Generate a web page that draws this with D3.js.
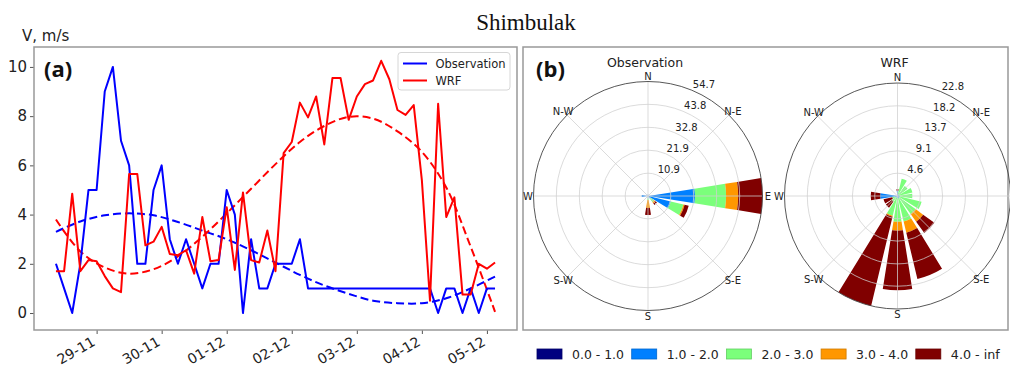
<!DOCTYPE html>
<html>
<head>
<meta charset="utf-8">
<script src="https://cdn.jsdelivr.net/npm/d3@7"></script>
<style>
  body { margin: 0; background: #fff; }
  svg { display: block; font-family: "DejaVu Sans", sans-serif; }
</style>
</head>
<body>
<svg id="chart" width="1010" height="365"></svg>
<script>
// ---------- wind speed time series (3-hourly, from 28-11 09:00) ----------
const startTime = new Date(2019, 10, 28, 9);
const stepHours = 3;
const observed = [2, 1, 0, 2, 5, 5, 9, 10, 7, 6, 2, 2, 5, 6, 3, 2, 3, 2, 1, 2,
  2, 5, 4, 0, 3, 1, 1, 2, 2, 2, 3, 1, 1, 1, 1, 1, 1, 1, 1, 1,
  1, 1, 1, 1, 1, 1, 1, 0, 1, 1, 0, 1, 0, 1, 1];
const wrf = [1.7, 1.7, 4.85, 1.7, 2.15, 2.1, 1.5, 1.0, 0.85, 5.65, 5.65, 2.75, 2.9, 3.5, 2.4, 2.35, 2.55, 1.6, 3.9, 2.1,
  2.15, 4.3, 1.75, 4.9, 2.15, 2.05, 3.35, 1.7, 6.5, 6.95, 8.55, 7.95, 8.8, 6.85, 9.55, 9.55, 7.85, 8.8, 9.3, 9.45,
  10.25, 9.5, 8.25, 8.05, 8.45, 5.4, 0.5, 8.5, 3.9, 4.7, 0.75, 0.75, 2.0, 1.8, 2.05];
// smooth trend curves, read every third step
const trendIndex = [0, 3, 6, 9, 12, 15, 18, 21, 24, 27, 30, 33, 36, 39, 42, 45, 48, 51, 54];
const observedTrend = [3.3, 3.72, 3.97, 4.05, 3.97, 3.7, 3.35, 3.0, 2.55, 2.05, 1.55, 1.12, 0.78, 0.5, 0.4, 0.4, 0.6, 1.0, 1.48];
const wrfTrend = [3.8, 2.5, 1.85, 1.6, 1.78, 2.3, 3.1, 4.05, 5.05, 6.05, 6.95, 7.6, 7.97, 7.9, 7.38, 6.55, 5.1, 2.7, 0.05];
const dayTicks = ["2019-11-29", "2019-11-30", "2019-12-01", "2019-12-02", "2019-12-03", "2019-12-04", "2019-12-05"];
const speedTicks = [0, 2, 4, 6, 8, 10];

// ---------- wind roses: frequency (%) per sector and speed class ----------
const sectors = ["N", "NNE", "NE", "ENE", "E", "ESE", "SE", "SSE", "S", "SSW", "SW", "WSW", "W", "WNW", "NW", "NNW"];
const speedClasses = ["0.0 - 1.0", "1.0 - 2.0", "2.0 - 3.0", "3.0 - 4.0", "4.0 - inf"];
const classColors = ["#000080", "#0080ff", "#7bff7b", "#ff9700", "#800000"];

const obs_0_1   = [0.3, 0, 0, 0, 0.3, 0.2, 0, 0, 0, 0, 0, 0, 0.3, 0, 0, 0];
const obs_1_2   = [0.5, 0, 0, 0, 22.2, 11.0, 1.5, 0, 1.0, 0, 0, 0, 2.7, 0.8, 0, 0];
const obs_2_3   = [0, 0, 0, 0, 14.8, 6.2, 2.0, 0, 0.9, 0, 0, 0, 0, 0, 0, 0];
const obs_3_4   = [0, 0, 0, 0, 5.8, 0.6, 0.8, 0, 3.8, 0, 0, 0, 0, 0, 0, 0];
const obs_4_inf = [0, 0, 0, 0, 11.6, 2.0, 1.0, 0, 3.4, 0, 0, 0, 0, 0, 0, 0];
const obsRadii  = [10.9, 21.9, 32.8, 43.8, 54.7];

const wrf_0_1   = [0, 0, 0, 0, 0, 0, 0, 0, 0, 0, 0, 0, 0, 0, 0, 0];
const wrf_1_2   = [1.0, 0.4, 0.3, 0.3, 0.3, 0.5, 0.4, 0.5, 0.4, 0.3, 0.4, 0.5, 3.5, 0, 0, 0];
const wrf_2_3   = [0, 3.2, 2.2, 2.8, 2.7, 4.5, 4.1, 4.8, 4.8, 3.8, 1.0, 0.6, 0, 0, 0, 0];
const wrf_3_4   = [0, 0, 0, 0, 0, 0, 1.9, 2.3, 1.8, 0.2, 0, 0, 0, 0, 0, 0];
const wrf_4_inf = [0.4, 0, 0, 0, 0, 0, 2.8, 9.6, 12.0, 18.5, 1.5, 1.8, 1.9, 0, 0, 0];
const wrfRadii  = [4.6, 9.1, 13.7, 18.2, 22.8];

const compassLabels = ["N", "N-E", "E", "S-E", "S", "S-W", "W", "N-W"];

// ---------------------------------------------------------------------------
const svg = d3.select("#chart");
const textColor = "#222";

// title
svg.append("text").attr("x", 526).attr("y", 30).attr("text-anchor", "middle")
  .style("font-family", "'Liberation Serif', serif").style("font-size", "23px")
  .attr("fill", "#111").text("Shimbulak");

// ---------------- panel (a): time series ----------------
const timeAt = i => new Date(startTime.getTime() + i * stepHours * 3600e3);
const pad = 8.1 * 3600e3;
const plot = { left: 34, right: 517, top: 47, bottom: 330 };

const x = d3.scaleTime()
  .domain([new Date(startTime.getTime() - pad), new Date(timeAt(observed.length - 1).getTime() + pad)])
  .range([plot.left, plot.right]);
const y = d3.scaleLinear().domain([-0.69, 10.81]).range([plot.bottom, plot.top]);

const gA = svg.append("g");

// y axis
const yAxis = gA.append("g").attr("transform", `translate(${plot.left},0)`)
  .call(d3.axisLeft(y).tickValues(speedTicks).tickSize(4).tickPadding(3).tickFormat(d3.format("d")));
yAxis.select(".domain").remove();
yAxis.selectAll("line").attr("stroke", "#555");
yAxis.selectAll("text").attr("fill", textColor).style("font-size", "15px")
  .style("font-family", "'DejaVu Sans', sans-serif");

// x axis
const dayDates = dayTicks.map(s => d3.timeParse("%Y-%m-%d")(s));
const xAxis = gA.append("g").attr("transform", `translate(0,${plot.bottom})`)
  .call(d3.axisBottom(x).tickValues(dayDates).tickSize(4).tickFormat(d3.timeFormat("%d-%m")));
xAxis.select(".domain").remove();
xAxis.selectAll("line").attr("stroke", "#555");
xAxis.selectAll("text")
  .attr("fill", textColor).style("font-size", "14px").style("font-family", "'DejaVu Sans', sans-serif")
  .attr("text-anchor", "end").attr("y", 0).attr("dy", 0)
  .attr("transform", "translate(-1,14.5) rotate(-30)");

// axis unit
svg.append("text").attr("x", 22).attr("y", 41).attr("fill", textColor)
  .style("font-size", "15px").text("V, m/s");

// clip for lines
svg.append("defs").append("clipPath").attr("id", "plotClip")
  .append("rect").attr("x", plot.left).attr("y", plot.top)
  .attr("width", plot.right - plot.left).attr("height", plot.bottom - plot.top);

const linesG = gA.append("g").attr("clip-path", "url(#plotClip)");
const seriesLine = d3.line().x((d, i) => x(timeAt(i))).y(d => y(d));
const trendLine = d3.line().x((d, i) => x(timeAt(trendIndex[i]))).y(d => y(d)).curve(d3.curveCatmullRom);

linesG.append("path").datum(observedTrend).attr("d", trendLine)
  .attr("fill", "none").attr("stroke", "#0000ff").attr("stroke-width", 2).attr("stroke-dasharray", "8,4");
linesG.append("path").datum(wrfTrend).attr("d", trendLine)
  .attr("fill", "none").attr("stroke", "#ff0000").attr("stroke-width", 2).attr("stroke-dasharray", "8,4");
linesG.append("path").datum(observed).attr("d", seriesLine)
  .attr("fill", "none").attr("stroke", "#0000ff").attr("stroke-width", 2).attr("stroke-linejoin", "round");
linesG.append("path").datum(wrf).attr("d", seriesLine)
  .attr("fill", "none").attr("stroke", "#ff0000").attr("stroke-width", 2).attr("stroke-linejoin", "round");

// frame
gA.append("rect").attr("x", plot.left).attr("y", plot.top)
  .attr("width", plot.right - plot.left).attr("height", plot.bottom - plot.top)
  .attr("fill", "none").attr("stroke", "#999").attr("stroke-width", 1.5);

// legend
const leg = gA.append("g");
leg.append("rect").attr("x", 398).attr("y", 52.5).attr("width", 112).attr("height", 37.5).attr("rx", 3)
  .attr("fill", "#fff").attr("fill-opacity", 0.85).attr("stroke", "#d6d6d6");
[["Observation", "#0000ff"], ["WRF", "#ff0000"]].forEach(([name, col], k) => {
  const yy = 63.5 + k * 17;
  leg.append("line").attr("x1", 403).attr("x2", 427).attr("y1", yy).attr("y2", yy)
    .attr("stroke", col).attr("stroke-width", 2);
  leg.append("text").attr("x", 435.5).attr("y", yy + 4.2).attr("fill", textColor)
    .style("font-size", "11.5px").text(name);
});

gA.append("text").attr("x", 44).attr("y", 77).attr("fill", "#111")
  .style("font-family", "'Open Sans', sans-serif").style("font-weight", "bold").style("font-size", "22px").text("(a)");

// ---------------- panel (b): wind roses ----------------
svg.append("rect").attr("x", 523).attr("y", 47).attr("width", 485).attr("height", 283)
  .attr("fill", "none").attr("stroke", "#999").attr("stroke-width", 1.5);
svg.append("text").attr("x", 536).attr("y", 77).attr("fill", "#111")
  .style("font-family", "'Open Sans', sans-serif").style("font-weight", "bold").style("font-size", "22px").text("(b)");

function drawRose(cx, cy, R, title, bins, radii) {
  const g = svg.append("g").attr("transform", `translate(${cx},${cy})`);
  const rmax = radii[radii.length - 1];
  const r = d3.scaleLinear().domain([0, rmax]).range([0, R]);
  const stacked = d3.stack().keys(d3.range(bins.length)).value((d, k) => bins[k][d])(d3.range(sectors.length));
  const half = (22.5 * 0.8 / 2) * Math.PI / 180;
  const arc = d3.arc();

  stacked.forEach((layer, k) => {
    layer.forEach((seg, s) => {
      if (seg[1] - seg[0] <= 0) return;
      const a = s * 22.5 * Math.PI / 180;
      g.append("path").attr("d", arc({
        innerRadius: r(seg[0]), outerRadius: r(seg[1]),
        startAngle: a - half, endAngle: a + half
      })).attr("fill", classColors[k]);
    });
  });

  // grid above the bars
  radii.slice(0, -1).forEach(v => {
    g.append("circle").attr("r", r(v)).attr("fill", "none")
      .attr("stroke", "#d0d0d0").attr("stroke-width", 0.9).attr("stroke-opacity", 0.85);
  });
  d3.range(8).forEach(k => {
    const a = k * 45 * Math.PI / 180;
    g.append("line").attr("x1", 0).attr("y1", 0)
      .attr("x2", R * Math.sin(a)).attr("y2", -R * Math.cos(a))
      .attr("stroke", "#d0d0d0").attr("stroke-width", 0.9).attr("stroke-opacity", 0.85);
  });
  g.append("circle").attr("r", R).attr("fill", "none").attr("stroke", "#444").attr("stroke-width", 0.9);

  // compass labels
  compassLabels.forEach((lab, k) => {
    const a = k * 45 * Math.PI / 180;
    const rr = R + 5.5;
    g.append("text").attr("x", rr * Math.sin(a)).attr("y", -rr * Math.cos(a))
      .attr("text-anchor", "middle").attr("dominant-baseline", "central")
      .attr("fill", textColor).style("font-size", "10px").text(lab);
  });

  // radial labels along 22.5°
  const ra = 22.5 * Math.PI / 180;
  radii.forEach(v => {
    g.append("text").attr("x", r(v) * Math.sin(ra) + 1).attr("y", -r(v) * Math.cos(ra) - 2)
      .attr("fill", textColor).style("font-size", "10px").text(d3.format(".1f")(v));
  });

  svg.append("text").attr("x", cx - 3).attr("y", 67).attr("text-anchor", "middle")
    .attr("fill", textColor).style("font-size", "12.5px").text(title);
}

drawRose(648, 196, 114.5, "Observation", [obs_0_1, obs_1_2, obs_2_3, obs_3_4, obs_4_inf], obsRadii);
drawRose(897.5, 196, 113, "WRF", [wrf_0_1, wrf_1_2, wrf_2_3, wrf_3_4, wrf_4_inf], wrfRadii);

// speed class legend
const lg = svg.append("g");
speedClasses.forEach((lab, k) => {
  const lx = 537 + k * 94.7;
  lg.append("rect").attr("x", lx).attr("y", 349).attr("width", 25).attr("height", 10)
    .attr("fill", classColors[k]).attr("stroke", d3.color(classColors[k]).darker(0.6)).attr("stroke-width", 0.8);
  lg.append("text").attr("x", lx + 35).attr("y", 358.5).attr("fill", textColor)
    .attr("textLength", k === 4 ? 49 : 52).attr("lengthAdjust", "spacingAndGlyphs")
    .style("font-size", "12.5px").text(lab);
});
</script>
</body>
</html>
